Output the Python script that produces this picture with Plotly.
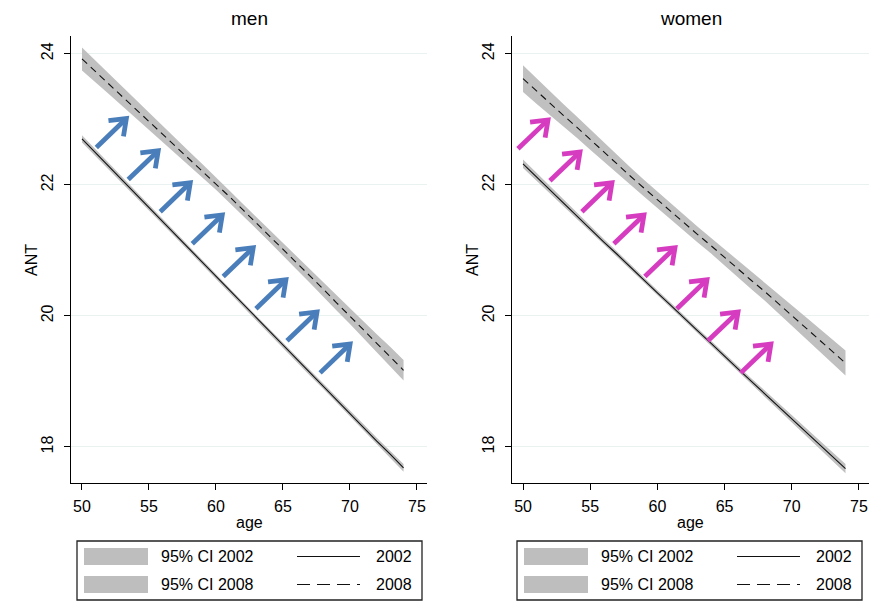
import math
import plotly.graph_objects as go

# ---------------- data ----------------
ages = list(range(50, 75))

men_2002 = [22.70, 22.49, 22.28, 22.07, 21.86, 21.65, 21.44, 21.23, 21.02, 20.81,
            20.60, 20.39, 20.18, 19.97, 19.76, 19.55, 19.34, 19.13, 18.93, 18.72,
            18.51, 18.30, 18.09, 17.89, 17.68]
men_2008 = [23.92, 23.73, 23.54, 23.35, 23.16, 22.97, 22.78, 22.59, 22.40, 22.21,
            22.02, 21.82, 21.62, 21.42, 21.22, 21.02, 20.81, 20.61, 20.41, 20.20,
            20.00, 19.79, 19.58, 19.38, 19.17]
women_2002 = [22.32, 22.12, 21.92, 21.72, 21.53, 21.33, 21.13, 20.94, 20.74, 20.55,
              20.35, 20.16, 19.96, 19.77, 19.58, 19.38, 19.19, 19.00, 18.81, 18.62,
              18.43, 18.24, 18.05, 17.86, 17.67]
women_2008 = [23.62, 23.43, 23.25, 23.06, 22.88, 22.69, 22.50, 22.32, 22.13, 21.95,
              21.77, 21.59, 21.42, 21.24, 21.07, 20.89, 20.72, 20.54, 20.37, 20.19,
              20.01, 19.83, 19.65, 19.46, 19.28]

# half-widths of the 95% confidence bands
men_2002_ci = [0.055, 0.052, 0.049, 0.046, 0.044, 0.042, 0.040, 0.038, 0.037, 0.036,
               0.035, 0.035, 0.035, 0.035, 0.036, 0.037, 0.038, 0.040, 0.042, 0.044,
               0.046, 0.049, 0.052, 0.055, 0.058]
men_2008_ci = [0.175, 0.165, 0.155, 0.146, 0.137, 0.129, 0.121, 0.114, 0.108, 0.102,
               0.097, 0.093, 0.090, 0.090, 0.092, 0.095, 0.099, 0.104, 0.110, 0.117,
               0.124, 0.131, 0.139, 0.147, 0.155]
women_2002_ci = [0.065, 0.061, 0.057, 0.053, 0.050, 0.047, 0.045, 0.043, 0.042, 0.041,
                 0.040, 0.040, 0.040, 0.040, 0.041, 0.042, 0.044, 0.046, 0.049, 0.052,
                 0.055, 0.058, 0.062, 0.066, 0.070]
women_2008_ci = [0.205, 0.194, 0.183, 0.173, 0.163, 0.154, 0.146, 0.139, 0.133, 0.128,
                 0.124, 0.121, 0.119, 0.119, 0.120, 0.123, 0.127, 0.132, 0.138, 0.145,
                 0.153, 0.161, 0.170, 0.180, 0.190]

# arrow heads (age, ANT); each arrow runs from (head - len) to head
men_arrow_heads_x = [53.31, 55.69, 58.08, 60.47, 62.78, 65.22, 67.54, 70.01]
men_arrow_heads_y = [23.01, 22.52, 22.03, 21.54, 21.04, 20.55, 20.06, 19.57]
women_arrow_heads_x = [51.86, 54.24, 56.62, 59.00, 61.31, 63.69, 66.00, 68.45]
women_arrow_heads_y = [22.99, 22.50, 22.03, 21.54, 21.04, 20.55, 20.06, 19.57]
arrow_len_x = 2.24   # age units from tail to head
arrow_len_y = 0.44   # ANT units from tail to head

panel_titles = ["men", "women"]
legend_labels = ["95% CI 2002", "95% CI 2008", "2002", "2008"]
x_ticks = [50, 55, 60, 65, 70, 75]
y_ticks = [18, 20, 22, 24]

# ---------------- layout geometry ----------------
OFF = 8                      # default page body margin
FW, FH = 885 - OFF, 605 - OFF


def PX(x):
    return (x - OFF) / FW


def PY(y):
    return 1 - (y - OFF) / FH


FONT = "Liberation Sans, Arial, sans-serif"
x_range = [49.18, 75.75]
y_range = [17.45, 24.27]
dom_left = [PX(71), PX(427)]
dom_right = [PX(512), PX(869)]
dom_y = [PY(483), PY(36)]
px_per_x = (427 - 71) / (x_range[1] - x_range[0])
px_per_y = (483 - 36) / (y_range[1] - y_range[0])

BAND = "#c0c0c0"
LINE = "#111111"
BLUE = "#4a7ebb"
MAGENTA = "#d63cbf"

fig = go.Figure()


def add_band(x, mid, hw, xa, ya):
    lo = [m - h for m, h in zip(mid, hw)]
    hi = [m + h for m, h in zip(mid, hw)]
    fig.add_trace(go.Scatter(x=list(x) + list(x)[::-1], y=hi + lo[::-1],
                             fill="toself", fillcolor=BAND, mode="lines",
                             line=dict(width=0, color=BAND), hoverinfo="skip",
                             showlegend=False, xaxis=xa, yaxis=ya))


def add_line(x, y, dash, xa, ya):
    fig.add_trace(go.Scatter(x=x, y=y, mode="lines",
                             line=dict(color=LINE, width=1.1, dash=dash),
                             showlegend=False, xaxis=xa, yaxis=ya))


def add_arrows(hx_list, hy_list, color, xa, ya):
    xs, ys = [], []
    for hx, hy in zip(hx_list, hy_list):
        tx, ty = hx - arrow_len_x, hy - arrow_len_y
        vx, vy = (tx - hx) * px_per_x, (ty - hy) * px_per_y
        n = math.hypot(vx, vy)
        ux, uy = vx / n, vy / n
        sx_end = hx + ux * 2.5 / px_per_x
        sy_end = hy + uy * 2.5 / px_per_y
        xs += [tx, sx_end, None]
        ys += [ty, sy_end, None]
        arm = 18.0
        pts = []
        for ang in (math.radians(37), -math.radians(37)):
            rx = ux * math.cos(ang) - uy * math.sin(ang)
            ry = ux * math.sin(ang) + uy * math.cos(ang)
            pts.append((hx + rx * arm / px_per_x, hy + ry * arm / px_per_y))
        xs += [pts[0][0], hx, pts[1][0], None]
        ys += [pts[0][1], hy, pts[1][1], None]
    fig.add_trace(go.Scatter(x=xs, y=ys, mode="lines",
                             line=dict(color=color, width=4.8),
                             showlegend=False, hoverinfo="skip",
                             xaxis=xa, yaxis=ya))


# men panel
add_band(ages, men_2002, men_2002_ci, "x", "y")
add_band(ages, men_2008, men_2008_ci, "x", "y")
add_line(ages, men_2002, "solid", "x", "y")
add_line(ages, men_2008, "7px,5px", "x", "y")
add_arrows(men_arrow_heads_x, men_arrow_heads_y, BLUE, "x", "y")

# women panel
add_band(ages, women_2002, women_2002_ci, "x2", "y2")
add_band(ages, women_2008, women_2008_ci, "x2", "y2")
add_line(ages, women_2002, "solid", "x2", "y2")
add_line(ages, women_2008, "7px,5px", "x2", "y2")
add_arrows(women_arrow_heads_x, women_arrow_heads_y, MAGENTA, "x2", "y2")

xaxis_common = dict(range=x_range, tickvals=x_ticks, showgrid=False, zeroline=False,
                    showline=True, linecolor="#000", linewidth=1.3,
                    ticks="outside", ticklen=6, tickwidth=1.2, tickcolor="#000",
                    tickfont=dict(family=FONT, size=16, color="#000"),
                    ticklabelstandoff=3)
yaxis_common = dict(range=y_range, tickvals=y_ticks, showgrid=True,
                    gridcolor="#e9f1f1", gridwidth=1, zeroline=False,
                    showline=True, linecolor="#000", linewidth=1.3,
                    ticks="outside", ticklen=6, tickwidth=1.2, tickcolor="#000",
                    tickangle=-90,
                    tickfont=dict(family=FONT, size=16, color="#000"),
                    ticklabelstandoff=4)

fig.update_layout(
    width=FW, height=FH, autosize=False,
    margin=dict(l=0, r=0, t=0, b=0),
    paper_bgcolor="white", plot_bgcolor="white",
    showlegend=False,
    font=dict(family=FONT, color="#000"),
    xaxis=dict(domain=dom_left, anchor="y", **xaxis_common),
    yaxis=dict(domain=dom_y, anchor="x", **yaxis_common),
    xaxis2=dict(domain=dom_right, anchor="y2", **xaxis_common),
    yaxis2=dict(domain=dom_y, anchor="x2", **yaxis_common),
)

annotations = []
shapes = []
for i, (left_px, right_px, title) in enumerate([(71, 427, panel_titles[0]),
                                                 (512, 869, panel_titles[1])]):
    cx = (left_px + right_px) / 2
    annotations.append(dict(text=title, x=PX(cx), y=PY(18), xref="paper", yref="paper",
                            showarrow=False, font=dict(family=FONT, size=19, color="#000"),
                            xanchor="center", yanchor="middle"))
    annotations.append(dict(text="age", x=PX(cx), y=PY(522), xref="paper", yref="paper",
                            showarrow=False, font=dict(family=FONT, size=16, color="#000"),
                            xanchor="center", yanchor="middle"))
    annotations.append(dict(text="ANT", x=PX(left_px - 40), y=PY(260),
                            xref="paper", yref="paper", textangle=-90,
                            showarrow=False, font=dict(family=FONT, size=16, color="#000"),
                            xanchor="center", yanchor="middle"))
    # legend box (manually laid out, two columns)
    off = 0 if i == 0 else 440
    shapes.append(dict(type="rect", xref="paper", yref="paper",
                       x0=PX(77 + off), x1=PX(422 + off), y0=PY(600), y1=PY(541),
                       line=dict(color="#222", width=1.3), fillcolor="white"))
    for r, (ytop, ybot) in enumerate([(548, 565), (576, 593)]):
        shapes.append(dict(type="rect", xref="paper", yref="paper",
                           x0=PX(84 + off), x1=PX(148 + off),
                           y0=PY(ybot), y1=PY(ytop),
                           line=dict(width=0), fillcolor="#bebebe"))
        yc = (ytop + ybot) / 2
        annotations.append(dict(text=legend_labels[r], x=PX(159 + off), y=PY(yc),
                                xref="paper", yref="paper", showarrow=False,
                                xanchor="left", yanchor="middle",
                                font=dict(family=FONT, size=16, color="#000")))
        shapes.append(dict(type="line", xref="paper", yref="paper",
                           x0=PX(297 + off), x1=PX(360 + off),
                           y0=PY(yc), y1=PY(yc),
                           line=dict(color=LINE, width=1.2,
                                     dash="solid" if r == 0 else "13px,7px")))
        annotations.append(dict(text=legend_labels[2 + r], x=PX(414 + off), y=PY(yc),
                                xref="paper", yref="paper", showarrow=False,
                                xanchor="right", yanchor="middle",
                                font=dict(family=FONT, size=16, color="#000")))

fig.update_layout(annotations=annotations, shapes=shapes)
fig.write_html("out.html")
